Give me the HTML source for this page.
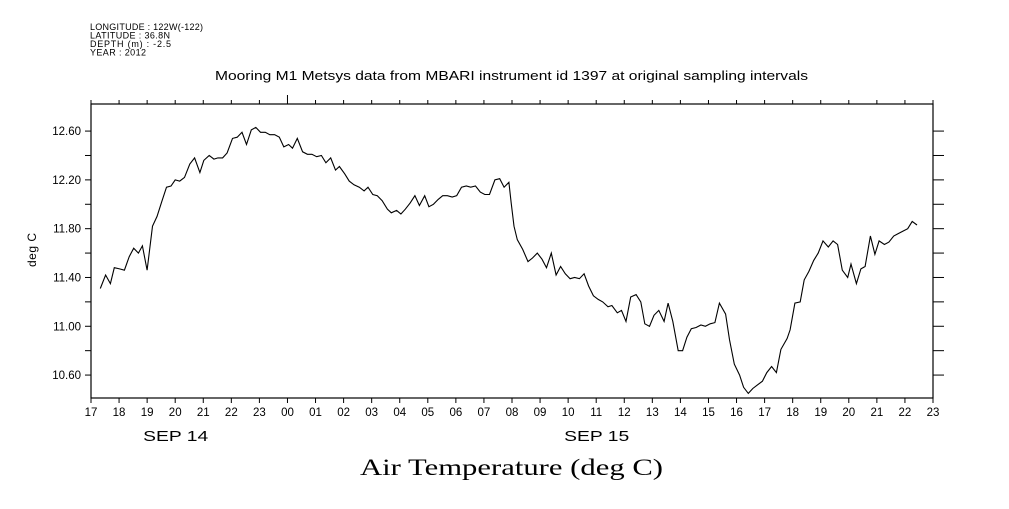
<!DOCTYPE html>
<html><head><meta charset="utf-8"><style>
html,body{margin:0;padding:0;background:#fff;}
svg text{font-family:"Liberation Sans",sans-serif;fill:#000;}
</style></head><body>
<svg id="chart" width="1009" height="504" viewBox="0 0 1009 504" xmlns="http://www.w3.org/2000/svg">
<g font-size="9">
<text x="90" y="30" textLength="113">LONGITUDE : 122W(-122)</text>
<text x="90" y="38.5" textLength="80">LATITUDE : 36.8N</text>
<text x="90" y="47" textLength="81">DEPTH (m) : -2.5</text>
<text x="90" y="55.5" textLength="56">YEAR : 2012</text>
</g>
<text x="215" y="80" textLength="593" lengthAdjust="spacingAndGlyphs" font-size="13">Mooring M1 Metsys data from MBARI instrument id 1397 at original sampling intervals</text>
<text transform="translate(36,250) rotate(-90)" text-anchor="middle" font-size="12" textLength="34">deg C</text>
<text x="360" y="475" textLength="303" lengthAdjust="spacingAndGlyphs" font-size="23" style="font-family:'Liberation Serif',serif">Air Temperature (deg C)</text>
<rect x="91" y="104" width="842" height="294" fill="none" stroke="#000" stroke-width="1.2"/>
<g id="axes"></g>
<g id="series"></g>
</svg>
<script>
// hours since SEP 14 17:00
const times = [0.33,0.52,0.69,0.83,1.02,1.19,1.36,1.52,1.69,1.83,2.00,2.19,2.35,2.52,2.69,2.85,3.00,3.16,3.33,3.52,3.69,3.88,4.02,4.21,4.38,4.52,4.69,4.85,5.04,5.21,5.38,5.54,5.71,5.87,6.04,6.21,6.37,6.54,6.71,6.87,7.04,7.18,7.35,7.54,7.71,7.87,8.04,8.21,8.37,8.54,8.71,8.85,9.04,9.20,9.37,9.56,9.73,9.87,10.04,10.20,10.37,10.56,10.70,10.89,11.04,11.20,11.37,11.54,11.70,11.89,12.04,12.20,12.37,12.53,12.70,12.87,13.03,13.20,13.37,13.53,13.70,13.87,14.03,14.20,14.39,14.56,14.72,14.89,
14.97,15.07,15.19,15.38,15.57,15.73,15.90,16.07,16.23,16.40,16.57,16.73,16.90,17.07,17.23,17.40,17.57,17.73,17.90,18.07,18.23,18.42,18.56,18.75,18.90,19.06,19.23,19.42,19.59,19.73,19.90,20.06,20.23,20.42,20.56,20.73,20.92,21.08,21.23,21.39,21.56,21.73,21.89,22.06,22.23,22.39,22.61,22.75,22.92,23.11,23.25,23.42,23.58,23.75,23.92,24.08,24.25,24.42,24.58,24.80,24.91,25.08,25.27,25.41,25.58,25.75,25.91,26.08,26.27,26.44,26.60,26.77,26.96,27.08,27.27,27.43,27.58,27.77,27.93,28.08,28.27,28.43,28.60,28.76,28.93,29.10,29.26,29.43];
const temps = [11.31,11.42,11.35,11.48,11.47,11.46,11.57,11.64,11.60,11.66,11.46,11.82,11.90,12.02,12.14,12.15,12.20,12.19,12.22,12.33,12.38,12.26,12.36,12.40,12.37,12.38,12.38,12.42,12.54,12.55,12.59,12.49,12.61,12.63,12.59,12.59,12.57,12.57,12.55,12.47,12.49,12.46,12.54,12.43,12.41,12.41,12.39,12.40,12.34,12.38,12.28,12.31,12.25,12.19,12.16,12.14,12.11,12.14,12.08,12.07,12.03,11.96,11.93,11.95,11.92,11.96,12.01,12.07,11.99,12.07,11.98,12.00,12.04,12.07,12.07,12.06,12.07,12.14,12.15,12.14,12.15,12.10,12.08,12.08,12.20,12.21,12.14,12.18,
12.01,11.82,11.71,11.63,11.53,11.56,11.60,11.55,11.48,11.60,11.42,11.49,11.43,11.39,11.40,11.39,11.43,11.33,11.25,11.22,11.20,11.16,11.17,11.11,11.13,11.04,11.24,11.26,11.20,11.02,11.00,11.09,11.13,11.04,11.19,11.04,10.80,10.80,10.91,10.98,10.99,11.01,11.00,11.02,11.03,11.19,11.10,10.89,10.69,10.60,10.50,10.45,10.49,10.52,10.55,10.62,10.67,10.62,10.81,10.90,10.97,11.19,11.20,11.38,11.45,11.54,11.60,11.70,11.65,11.70,11.67,11.46,11.40,11.51,11.35,11.47,11.49,11.74,11.59,11.70,11.67,11.69,11.74,11.76,11.78,11.80,11.86,11.83];
const xTickLabels = ["17","18","19","20","21","22","23","00","01","02","03","04","05","06","07","08","09","10","11","12","13","14","15","16","17","18","19","20","21","22","23"];
const yTickValues = [10.6,10.8,11.0,11.2,11.4,11.6,11.8,12.0,12.2,12.4,12.6];
const yTickLabels = ["10.60","","11.00","","11.40","","11.80","","12.20","","12.60"];
const dateLabels = ["SEP 14","SEP 15"];
const datePositions = [3, 18];

const X0=91, X1=933, Y0=104, Y1=398, TMIN=0, TMAX=30, VMIN=10.412, VMAX=12.822;
const xs = t => X0 + (t-TMIN)/(TMAX-TMIN)*(X1-X0);
const ys = v => Y1 - (v-VMIN)/(VMAX-VMIN)*(Y1-Y0);
const NS="http://www.w3.org/2000/svg";
const axes=document.getElementById('axes'), series=document.getElementById('series');
function mk(tag, attrs, parent){const e=document.createElementNS(NS,tag);for(const k in attrs)e.setAttribute(k,attrs[k]);parent.appendChild(e);return e;}

xTickLabels.forEach((lab,i)=>{
  const x=xs(i);
  const b=mk('line',{x1:x,y1:Y1,x2:x,y2:Y1+5,stroke:'#000'},axes);
  
  
  const len = lab==="00"?9:4;
  const t=mk('line',{x1:x,y1:Y0,x2:x,y2:Y0-len,stroke:'#000'},axes);
  
  
  const tx=mk('text',{x:x,y:Y1+18,'text-anchor':'middle','font-size':'11.5'},axes);
  tx.textContent=lab;
  
  
});
dateLabels.forEach((lab,i)=>{
  const tx=mk('text',{x:xs(datePositions[i])-32,y:441,'font-size':'15',textLength:'65',lengthAdjust:'spacingAndGlyphs'},axes);
  tx.textContent=lab;
  
  
});
yTickValues.forEach((v,i)=>{
  const y=ys(v);
  const l=mk('line',{x1:X0-6,y1:y,x2:X0,y2:y,stroke:'#000'},axes);
  
  
  const r=mk('line',{x1:X1,y1:y,x2:X1+11,y2:y,stroke:'#000'},axes);
  
  
  if(yTickLabels[i]){
    const tx=mk('text',{x:X0-10,y:y+4,'text-anchor':'end','font-size':'11.5'},axes);
    tx.textContent=yTickLabels[i];
    
    
  }
});
const pts=times.map((t,i)=>xs(t).toFixed(1)+','+ys(temps[i]).toFixed(1)).join(' ');
const pl=mk('polyline',{points:pts,fill:'none',stroke:'#000','stroke-width':'1.1'},series);


</script>
</body></html>
